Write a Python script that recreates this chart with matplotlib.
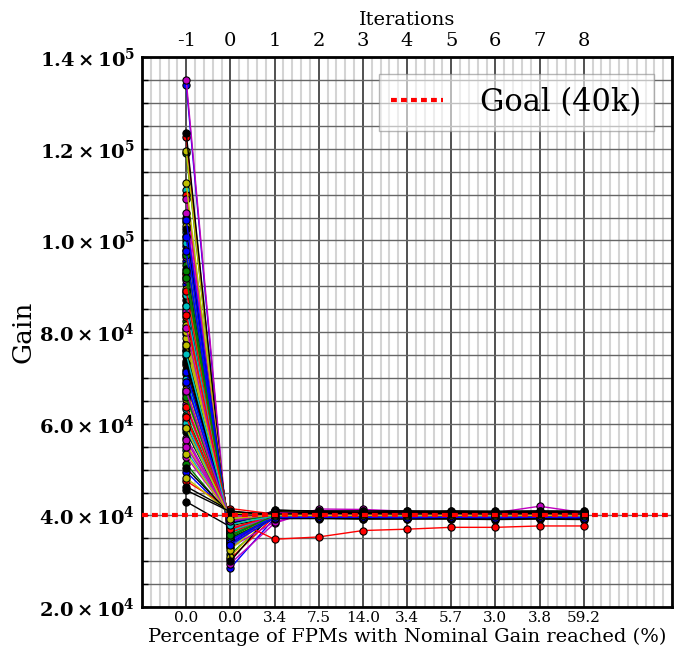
import matplotlib
matplotlib.use('Agg')
import matplotlib.pyplot as plt
from matplotlib.ticker import MultipleLocator, FuncFormatter

# ---------------- data (gain in thousands) ----------------
iterations = [-1, 0, 1, 2, 3, 4, 5, 6, 7, 8]
pct_labels = ['0.0', '0.0', '3.4', '7.5', '14.0', '3.4', '5.7', '3.0', '3.8', '59.2']
goal_gain = 40000

gain_it_m1 = [134.0, 119.0, 122.5, 111.0, 135.0, 119.5, 123.5,
              98.7, 104.0, 110.0, 101.8, 109.0, 112.5, 105.0,
              95.5, 100.2, 97.1, 99.5, 106.0, 103.2, 101.0,
              90.4, 94.6, 93.0, 92.1, 96.3, 98.0, 102.5,
              86.0, 88.7, 87.8, 84.2, 91.3, 89.5, 93.8,
              79.6, 82.4, 83.3, 80.6, 85.1, 81.5, 86.9,
              74.8, 76.8, 72.8, 75.8, 77.7, 78.7, 73.8,
              66.5, 70.8, 68.7, 69.8, 64.3, 67.6, 71.8,
              59.6, 62.0, 60.8, 63.2, 57.0, 65.4, 58.3,
              49.5, 51.2, 47.5, 54.2, 52.8, 55.6, 43.0,
              100.8, 96.8, 92.6, 88.2, 84.6, 80.1, 76.2,
              71.2, 66.9, 63.7, 60.2, 56.4, 53.5, 50.3,
              97.6, 93.4, 89.0, 85.6, 81.0, 77.2, 73.2,
              69.2, 65.9, 61.4, 58.8, 55.0, 48.2, 46.3,
              104.5, 91.8, 83.8, 75.2, 67.1, 59.1, 45.5]
gain_it0 = [28.5, 31.5, 30.5, 33.0, 29.5, 31.0, 30.0,
            35.0, 34.0, 33.5, 34.5, 33.0, 32.5, 33.8,
            35.8, 35.0, 36.0, 35.2, 34.2, 34.8, 35.1,
            36.5, 35.9, 36.2, 36.4, 35.6, 35.4, 34.9,
            37.0, 36.8, 37.1, 37.3, 36.6, 36.7, 36.1,
            37.8, 37.4, 37.5, 37.7, 37.2, 37.6, 37.0,
            38.2, 38.0, 38.5, 38.1, 37.9, 37.8, 38.4,
            38.8, 38.6, 38.9, 38.7, 39.1, 38.8, 38.5,
            39.3, 39.2, 39.4, 39.0, 39.6, 38.9, 39.5,
            40.1, 39.8, 41.5, 39.7, 40.0, 39.6, 37.5,
            34.0, 34.8, 35.5, 36.0, 36.9, 37.3, 37.9,
            38.3, 38.7, 39.0, 39.2, 39.5, 39.8, 40.3,
            34.6, 35.3, 36.3, 36.6, 37.3, 37.9, 38.2,
            38.6, 38.9, 39.1, 39.4, 39.9, 40.5, 41.0,
            33.6, 35.7, 37.0, 38.0, 38.7, 39.3, 40.8]
gain_it1 = [39.4, 40.2, 39.8, 40.6, 38.3, 41.0, 41.2,
            39.6, 40.1, 39.9, 40.4, 38.6, 40.8, 40.9,
            39.5, 40.3, 40.0, 39.7, 40.5, 40.7, 39.3,
            39.8, 40.0, 40.2, 39.9, 40.4, 40.6, 39.6,
            39.7, 40.1, 40.3, 40.0, 39.8, 40.9, 40.5,
            40.0, 39.9, 39.7, 40.2, 40.3, 40.1, 39.4,
            39.9, 40.4, 40.1, 39.8, 40.2, 40.0, 40.7,
            40.1, 39.7, 40.0, 40.3, 39.9, 40.2, 39.5,
            39.6, 40.0, 34.8, 40.1, 40.4, 39.9, 40.6,
            40.2, 39.8, 40.3, 39.9, 40.0, 40.5, 41.1,
            40.0, 39.6, 40.3, 39.8, 40.1, 40.4, 39.5,
            40.2, 39.9, 40.1, 39.7, 40.6, 40.0, 39.8,
            39.8, 40.2, 39.9, 40.0, 39.6, 40.3, 40.8,
            40.1, 39.8, 40.4, 40.0, 39.7, 40.2, 39.9,
            39.5, 40.0, 40.2, 39.9, 40.5, 40.1, 40.3]
gain_it2 = [39.5, 40.1, 39.9, 40.4, 41.4, 40.6, 40.8,
            39.4, 40.2, 40.0, 40.3, 41.0, 40.5, 40.9,
            39.6, 40.0, 40.1, 39.8, 40.2, 40.4, 39.3,
            39.7, 40.1, 40.0, 39.9, 40.3, 40.2, 39.6,
            39.8, 39.9, 40.2, 40.1, 39.7, 40.5, 40.7,
            39.9, 40.0, 39.8, 40.1, 40.2, 40.0, 39.4,
            40.0, 40.3, 40.1, 39.9, 40.1, 39.9, 40.6,
            40.1, 39.8, 39.9, 40.2, 40.0, 40.1, 39.5,
            39.6, 40.1, 35.3, 40.0, 40.3, 39.8, 40.5,
            40.2, 39.9, 40.1, 40.0, 39.9, 40.4, 41.0,
            39.9, 39.7, 40.2, 39.9, 40.0, 40.3, 39.6,
            40.1, 40.0, 40.0, 39.8, 40.4, 40.1, 39.7,
            39.7, 40.1, 40.0, 40.1, 39.7, 40.2, 40.6,
            40.0, 39.9, 40.3, 39.9, 39.8, 40.1, 40.0,
            39.6, 40.1, 40.1, 40.0, 40.3, 40.0, 40.4]
gain_it3 = [39.4, 40.0, 39.8, 40.3, 41.3, 40.5, 40.9,
            39.5, 40.1, 40.0, 40.2, 40.8, 40.6, 40.7,
            39.6, 39.9, 40.2, 39.8, 40.1, 40.3, 39.2,
            39.7, 40.0, 40.1, 39.9, 40.4, 40.2, 39.5,
            39.8, 40.1, 40.0, 40.2, 39.7, 40.4, 40.6,
            39.9, 39.8, 39.9, 40.0, 40.1, 40.0, 39.3,
            40.0, 40.2, 40.1, 39.8, 40.0, 39.9, 40.5,
            40.1, 39.9, 39.8, 40.1, 40.0, 40.2, 39.4,
            39.6, 40.0, 36.7, 40.1, 40.2, 39.7, 40.4,
            40.2, 39.9, 40.0, 40.1, 39.8, 40.3, 41.0,
            39.9, 39.8, 40.1, 39.9, 40.1, 40.2, 39.6,
            40.0, 40.1, 40.0, 39.8, 40.3, 40.1, 39.7,
            39.8, 40.0, 40.1, 40.0, 39.8, 40.2, 40.5,
            40.0, 39.9, 40.2, 40.0, 39.8, 40.1, 39.9,
            39.6, 40.0, 40.1, 40.0, 40.3, 40.0, 40.4]
gain_it4 = [39.5, 40.1, 39.9, 40.2, 40.9, 40.6, 40.8,
            39.4, 40.0, 40.1, 40.3, 40.7, 40.5, 40.9,
            39.6, 40.0, 40.1, 39.7, 40.2, 40.4, 39.2,
            39.8, 40.1, 40.0, 39.9, 40.3, 40.1, 39.5,
            39.7, 40.0, 40.2, 40.1, 39.8, 40.5, 40.6,
            39.9, 39.9, 39.8, 40.0, 40.2, 40.1, 39.3,
            40.0, 40.3, 40.0, 39.9, 40.1, 39.8, 40.4,
            40.1, 39.8, 39.9, 40.2, 39.9, 40.1, 39.4,
            39.6, 40.1, 37.0, 40.0, 40.3, 39.8, 40.5,
            40.2, 39.9, 40.1, 40.0, 39.9, 40.4, 41.0,
            40.0, 39.7, 40.2, 39.9, 40.0, 40.3, 39.5,
            40.1, 40.0, 40.1, 39.7, 40.4, 40.0, 39.8,
            39.7, 40.1, 40.0, 40.1, 39.7, 40.3, 40.6,
            40.1, 39.8, 40.3, 39.9, 39.7, 40.2, 40.0,
            39.5, 40.1, 40.2, 39.9, 40.4, 40.1, 40.3]
gain_it5 = [39.4, 40.0, 39.9, 40.3, 40.8, 40.5, 41.0,
            39.5, 40.1, 40.0, 40.2, 40.6, 40.6, 40.8,
            39.6, 39.9, 40.1, 39.8, 40.1, 40.3, 39.2,
            39.7, 40.0, 40.2, 39.9, 40.3, 40.2, 39.4,
            39.8, 40.1, 40.0, 40.1, 39.7, 40.4, 40.7,
            39.9, 39.8, 39.9, 40.0, 40.1, 40.0, 39.3,
            40.0, 40.2, 40.1, 39.8, 40.0, 39.9, 40.5,
            40.1, 39.9, 39.8, 40.1, 40.0, 40.2, 39.5,
            39.6, 40.0, 37.4, 40.1, 40.2, 39.7, 40.4,
            40.2, 39.9, 40.0, 40.1, 39.8, 40.3, 40.9,
            39.9, 39.8, 40.1, 40.0, 40.1, 40.2, 39.6,
            40.0, 40.1, 39.9, 39.8, 40.3, 40.1, 39.7,
            39.8, 40.0, 40.1, 40.0, 39.8, 40.2, 40.5,
            40.0, 39.9, 40.2, 40.1, 39.8, 40.1, 39.9,
            39.6, 40.0, 40.1, 40.0, 40.2, 40.0, 40.4]
gain_it6 = [39.5, 40.1, 39.9, 40.2, 40.6, 40.6, 40.9,
            39.4, 40.0, 40.1, 40.3, 40.5, 40.5, 40.8,
            39.6, 40.0, 40.0, 39.7, 40.2, 40.3, 39.1,
            39.8, 40.1, 40.1, 39.9, 40.3, 40.1, 39.5,
            39.7, 40.0, 40.2, 40.0, 39.8, 40.4, 40.6,
            39.9, 39.9, 39.8, 40.1, 40.1, 40.0, 39.3,
            40.0, 40.2, 40.0, 39.9, 40.1, 39.8, 40.4,
            40.1, 39.8, 39.9, 40.2, 39.9, 40.1, 39.4,
            39.6, 40.1, 37.4, 40.0, 40.2, 39.8, 40.5,
            40.2, 39.9, 40.1, 40.0, 39.9, 40.4, 40.9,
            40.0, 39.7, 40.2, 39.9, 40.0, 40.3, 39.5,
            40.1, 40.0, 40.1, 39.7, 40.4, 40.0, 39.8,
            39.7, 40.1, 40.0, 40.1, 39.7, 40.3, 40.6,
            40.1, 39.8, 40.3, 39.9, 39.7, 40.2, 40.0,
            39.5, 40.1, 40.2, 39.9, 40.4, 40.1, 40.3]
gain_it7 = [39.4, 40.0, 39.9, 40.3, 42.0, 40.5, 41.0,
            39.5, 40.1, 40.0, 40.2, 40.7, 40.6, 40.8,
            39.6, 39.9, 40.1, 39.8, 40.1, 40.3, 39.2,
            39.7, 40.0, 40.2, 39.9, 40.4, 40.2, 39.4,
            39.8, 40.1, 40.0, 40.1, 39.7, 40.5, 40.7,
            39.9, 39.8, 39.9, 40.0, 40.2, 40.0, 39.3,
            40.0, 40.2, 40.1, 39.8, 40.0, 39.9, 40.5,
            40.1, 39.9, 39.8, 40.1, 40.0, 40.2, 39.5,
            39.6, 40.0, 37.7, 40.1, 40.2, 39.7, 40.4,
            40.2, 39.9, 40.0, 40.1, 39.8, 40.3, 40.9,
            39.9, 39.8, 40.1, 39.9, 40.1, 40.2, 39.6,
            40.0, 40.1, 40.0, 39.8, 40.3, 40.1, 39.7,
            39.8, 40.0, 40.1, 40.0, 39.8, 40.2, 40.5,
            40.0, 39.9, 40.2, 40.0, 39.8, 40.1, 39.9,
            39.6, 40.0, 40.1, 40.0, 40.3, 40.0, 40.4]
gain_it8 = [39.5, 40.1, 39.9, 40.2, 40.6, 40.5, 40.9,
            39.4, 40.0, 40.1, 40.3, 40.5, 40.6, 40.8,
            39.6, 40.0, 40.0, 39.7, 40.2, 40.3, 39.1,
            39.8, 40.1, 40.1, 39.9, 40.3, 40.1, 39.5,
            39.7, 40.0, 40.2, 40.0, 39.8, 40.4, 40.6,
            39.9, 39.9, 39.8, 40.1, 40.1, 40.0, 39.3,
            40.0, 40.2, 40.0, 39.9, 40.1, 39.8, 40.4,
            40.1, 39.8, 39.9, 40.2, 39.9, 40.1, 39.4,
            39.6, 40.1, 37.7, 40.0, 40.2, 39.8, 40.5,
            40.2, 39.9, 40.1, 40.0, 39.9, 40.4, 40.9,
            40.0, 39.7, 40.2, 39.9, 40.0, 40.3, 39.5,
            40.1, 40.0, 40.1, 39.7, 40.4, 40.0, 39.8,
            39.7, 40.1, 40.0, 40.1, 39.7, 40.3, 40.6,
            40.1, 39.8, 40.3, 39.9, 39.7, 40.2, 40.0,
            39.5, 40.1, 40.2, 39.9, 40.4, 40.1, 40.3]

# ---------------- plot ----------------
plt.rcParams['font.family'] = ['DejaVu Serif']
plt.rcParams['mathtext.fontset'] = 'dejavuserif'

fig = plt.figure(figsize=(6.83, 6.57), dpi=100)
ax = fig.add_axes([0.208, 0.076, 0.776, 0.837])

columns = [gain_it_m1, gain_it0, gain_it1, gain_it2, gain_it3,
           gain_it4, gain_it5, gain_it6, gain_it7, gain_it8]
colors = 'bgrcmyk'
for i in range(len(gain_it_m1)):
    vals = [col[i] * 1000 for col in columns]
    ax.plot(iterations, vals, '-o', color=colors[i % 7], lw=1.0, ms=5.2,
            mec='k', mew=0.8, zorder=3)

ax.axhline(goal_gain, color='red', lw=3, ls=(0, (1.4, 1.0)),
           label='Goal (40k)', zorder=5)

ax.set_xlim(-2, 10)
ax.set_ylim(2e4, 1.4e5)
ax.set_xticks(iterations)
ax.set_xticklabels(pct_labels)
ax.xaxis.set_minor_locator(MultipleLocator(0.2))
ax.yaxis.set_major_locator(MultipleLocator(2e4))
ax.yaxis.set_minor_locator(MultipleLocator(5e3))


def yfmt(v, p):
    e = 0
    m = v
    while abs(m) >= 10:
        m /= 10.0
        e += 1
    return r'$\mathbf{%.1f\times10^{%d}}$' % (m, e)


ax.yaxis.set_major_formatter(FuncFormatter(yfmt))

ax.set_axisbelow(True)
ax.grid(which='minor', axis='x', color='#d4d4d4', lw=1.5)
ax.grid(which='major', axis='x', color='#222222', lw=1.1)
ax.grid(which='both', axis='y', color='#666666', lw=1.0)

ax.tick_params(axis='y', which='both', direction='in', length=4, width=1,
               labelsize=14, pad=5, left=True, right=False)
ax.tick_params(axis='x', which='both', length=0, labelsize=11, pad=3)
for s in ax.spines.values():
    s.set_linewidth(2)

ax.set_xlabel('Percentage of FPMs with Nominal Gain reached (%)', fontsize=14, labelpad=2)
ax.set_ylabel('Gain', fontsize=19, labelpad=3)

sec = ax.secondary_xaxis('top')
sec.set_xticks(iterations)
sec.set_xticklabels([str(v) for v in iterations])
sec.tick_params(length=0, labelsize=14, pad=5)
sec.set_xlabel('Iterations', fontsize=14, labelpad=5)

leg = ax.legend(loc='upper right', bbox_to_anchor=(0.966, 0.969), borderaxespad=0,
                fontsize=22, handlelength=1.7, handletextpad=1.2, borderpad=0.42,
                fancybox=False, framealpha=0.6, edgecolor='#888888')
leg.get_frame().set_linewidth(1.0)

fig.savefig('out.png', dpi=100)
